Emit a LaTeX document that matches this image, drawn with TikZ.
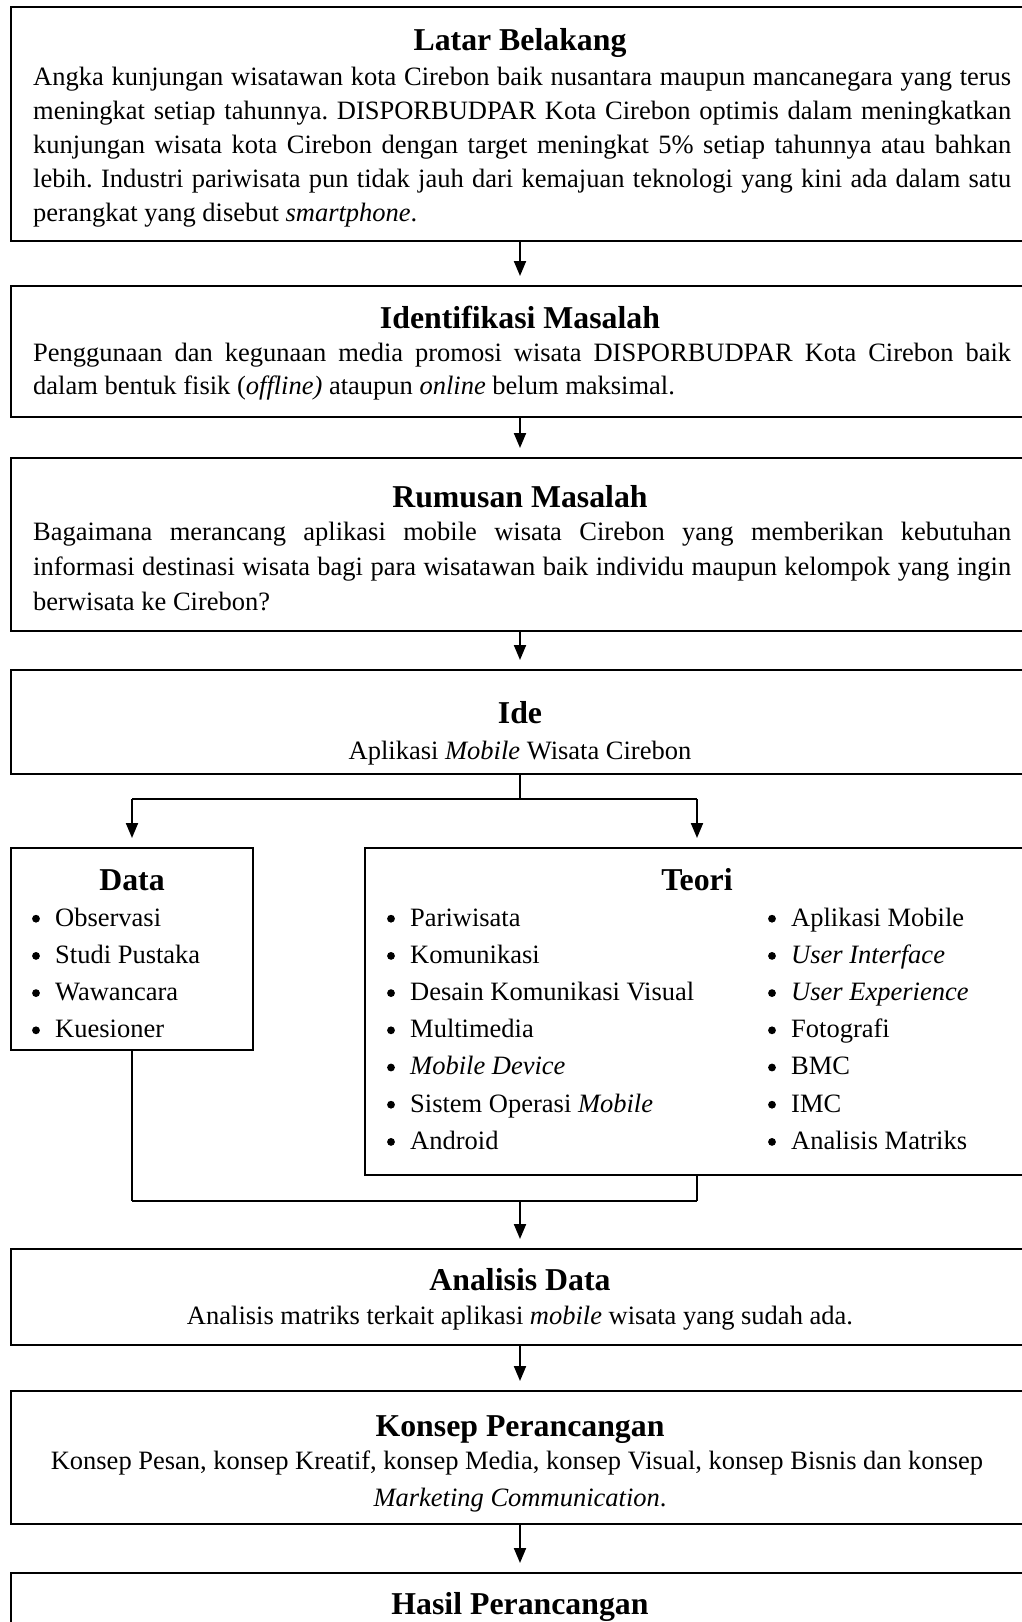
\documentclass[tikz,border=0pt]{standalone}
\usepackage{fontspec}
\setmainfont{Liberation Serif}
\usetikzlibrary{arrows.meta}
\frenchspacing
\newcommand\jline[1]{\makebox[978pt][s]{#1}}
\begin{document}
\begin{tikzpicture}[x=1pt,y=-1pt,
 box/.style={draw, line width=2pt, anchor=north west, inner sep=0pt, outer sep=0pt},
 ttl/.style={anchor=base, inner sep=0pt, font=\fontsize{31.8}{38}\selectfont\bfseries},
 txt/.style={anchor=base west, inner sep=0pt, font=\fontsize{26.5}{34}\selectfont},
 ctxt/.style={anchor=base, inner sep=0pt, font=\fontsize{26.5}{34}\selectfont},
 arr/.style={line width=2pt, -{Triangle[length=15pt,width=12pt]}, shorten >=10pt},
 conn/.style={line width=1.2pt},
 hline/.style={line width=2pt}]
\useasboundingbox (0,0) rectangle (1022,1622);

% boxes
\node[box, minimum width=1018pt, minimum height=234pt] (b1) at (11,7) {};
\node[box, minimum width=1018pt, minimum height=131pt] (b2) at (11,286) {};
\node[box, minimum width=1018pt, minimum height=173pt] (b3) at (11,458) {};
\node[box, minimum width=1018pt, minimum height=104pt] (ide) at (11,670) {};
\node[box, minimum width=242pt, minimum height=202pt] (data) at (11,848) {};
\node[box, minimum width=664pt, minimum height=327pt] (teori) at (365,848) {};
\node[box, minimum width=1018pt, minimum height=96pt] (ana) at (11,1249) {};
\node[box, minimum width=1018pt, minimum height=133pt] (kon) at (11,1391) {};
\node[box, minimum width=1018pt, minimum height=120pt] (has) at (11,1573) {};

% Latar Belakang
\node[ttl] (t1) at (520,50) {Latar Belakang};
\node[txt] (b1a) at (33,85) {\jline{Angka kunjungan wisatawan kota Cirebon baik nusantara maupun mancanegara yang terus}};
\node[txt] (b1b) at (33,119) {\jline{meningkat setiap tahunnya. DISPORBUDPAR Kota Cirebon optimis dalam meningkatkan}};
\node[txt] (b1c) at (33,153) {\jline{kunjungan wisata kota Cirebon dengan target meningkat 5\% setiap tahunnya atau bahkan}};
\node[txt] (b1d) at (33,187) {\jline{lebih. Industri pariwisata pun tidak jauh dari kemajuan teknologi yang kini ada dalam satu}};
\node[txt] (b1e) at (33,221) {perangkat yang disebut \textit{smartphone}.};

% Identifikasi Masalah
\node[ttl] (t2) at (520,328.5) {Identifikasi Masalah};
\node[txt] (b2a) at (33,361) {\jline{Penggunaan dan kegunaan media promosi wisata DISPORBUDPAR Kota Cirebon baik}};
\node[txt] (b2b) at (33,394.5) {dalam bentuk fisik (\textit{offline)} ataupun \textit{online} belum maksimal.};

% Rumusan Masalah
\node[ttl] (t3) at (520,507.5) {Rumusan Masalah};
\node[txt] (b3a) at (33,540) {\jline{Bagaimana merancang aplikasi mobile wisata Cirebon yang memberikan kebutuhan}};
\node[txt] (b3b) at (33,575) {\jline{informasi destinasi wisata bagi para wisatawan baik individu maupun kelompok yang ingin}};
\node[txt] (b3c) at (33,610) {berwisata ke Cirebon?};

% Ide
\node[ttl] (t4) at (520,723.7) {Ide};
\node[ctxt] (b4a) at (520,759.5) {Aplikasi \textit{Mobile} Wisata Cirebon};

% Data
\node[ttl] (t5) at (132,890) {Data};
\node[txt] (d1) at (55,926) {Observasi};
\node[txt] (d2) at (55,963.2) {Studi Pustaka};
\node[txt] (d3) at (55,1000.4) {Wawancara};
\node[txt] (d4) at (55,1037.6) {Kuesioner};

% Teori
\node[ttl] (t6) at (697,890) {Teori};
\node[txt] (l1) at (410,926) {Pariwisata};
\node[txt] (l2) at (410,963.2) {Komunikasi};
\node[txt] (l3) at (410,1000.4) {Desain Komunikasi Visual};
\node[txt] (l4) at (410,1037.6) {Multimedia};
\node[txt] (l5) at (410,1074.8) {\textit{Mobile Device}};
\node[txt] (l6) at (410,1112) {Sistem Operasi \textit{Mobile}};
\node[txt] (l7) at (410,1149.2) {Android};
\node[txt] (r1) at (791,926) {Aplikasi Mobile};
\node[txt] (r2) at (791,963.2) {\textit{User Interface}};
\node[txt] (r3) at (791,1000.4) {\textit{User Experience}};
\node[txt] (r4) at (791,1037.6) {Fotografi};
\node[txt] (r5) at (791,1074.8) {BMC};
\node[txt] (r6) at (791,1112) {IMC};
\node[txt] (r7) at (791,1149.2) {Analisis Matriks};
\foreach \n in {d1,d2,d3,d4,l1,l2,l3,l4,l5,l6,l7,r1,r2,r3,r4,r5,r6,r7}
  \fill ([xshift=-19pt,yshift=7.3pt]\n.base west) circle (3.9pt);

% Analisis Data
\node[ttl] (t7) at (520,1290.5) {Analisis Data};
\node[ctxt] (b7a) at (520,1324.5) {Analisis matriks terkait aplikasi \textit{mobile} wisata yang sudah ada.};

% Konsep Perancangan
\node[ttl] (t8) at (520,1436.5) {Konsep Perancangan};
\node[ctxt] (b8a) at (517,1469) {Konsep Pesan, konsep Kreatif, konsep Media, konsep Visual, konsep Bisnis dan konsep};
\node[ctxt] (b8b) at (520,1506.5) {\textit{Marketing Communication}.};

% Hasil Perancangan
\node[ttl] (t9) at (520,1614) {Hasil Perancangan};

% connectors
\coordinate (j1) at (520,799);
\coordinate (j2) at (520,1201);
\draw[arr] (b1.south -| j1) -- (b2.north -| j1);
\draw[arr] (b2.south -| j1) -- (b3.north -| j1);
\draw[arr] (b3.south -| j1) -- (ide.north -| j1);
\draw[conn] (ide.south -| j1) -- (j1);
\draw[hline] (j1 -| data.north) -- (j1 -| teori.north);
\draw[arr] (j1 -| data.north) -- (data.north);
\draw[arr] (j1 -| teori.north) -- (teori.north);
\draw[conn] (data.south) -- (j2 -| data.south);
\draw[conn] (teori.south) -- (j2 -| teori.south);
\draw[hline] (j2 -| data.south) -- (j2 -| teori.south);
\draw[arr] (j2) -- (ana.north -| j2);
\draw[arr] (ana.south -| j1) -- (kon.north -| j1);
\draw[arr] (kon.south -| j1) -- (has.north -| j1);
\end{tikzpicture}
\end{document}
